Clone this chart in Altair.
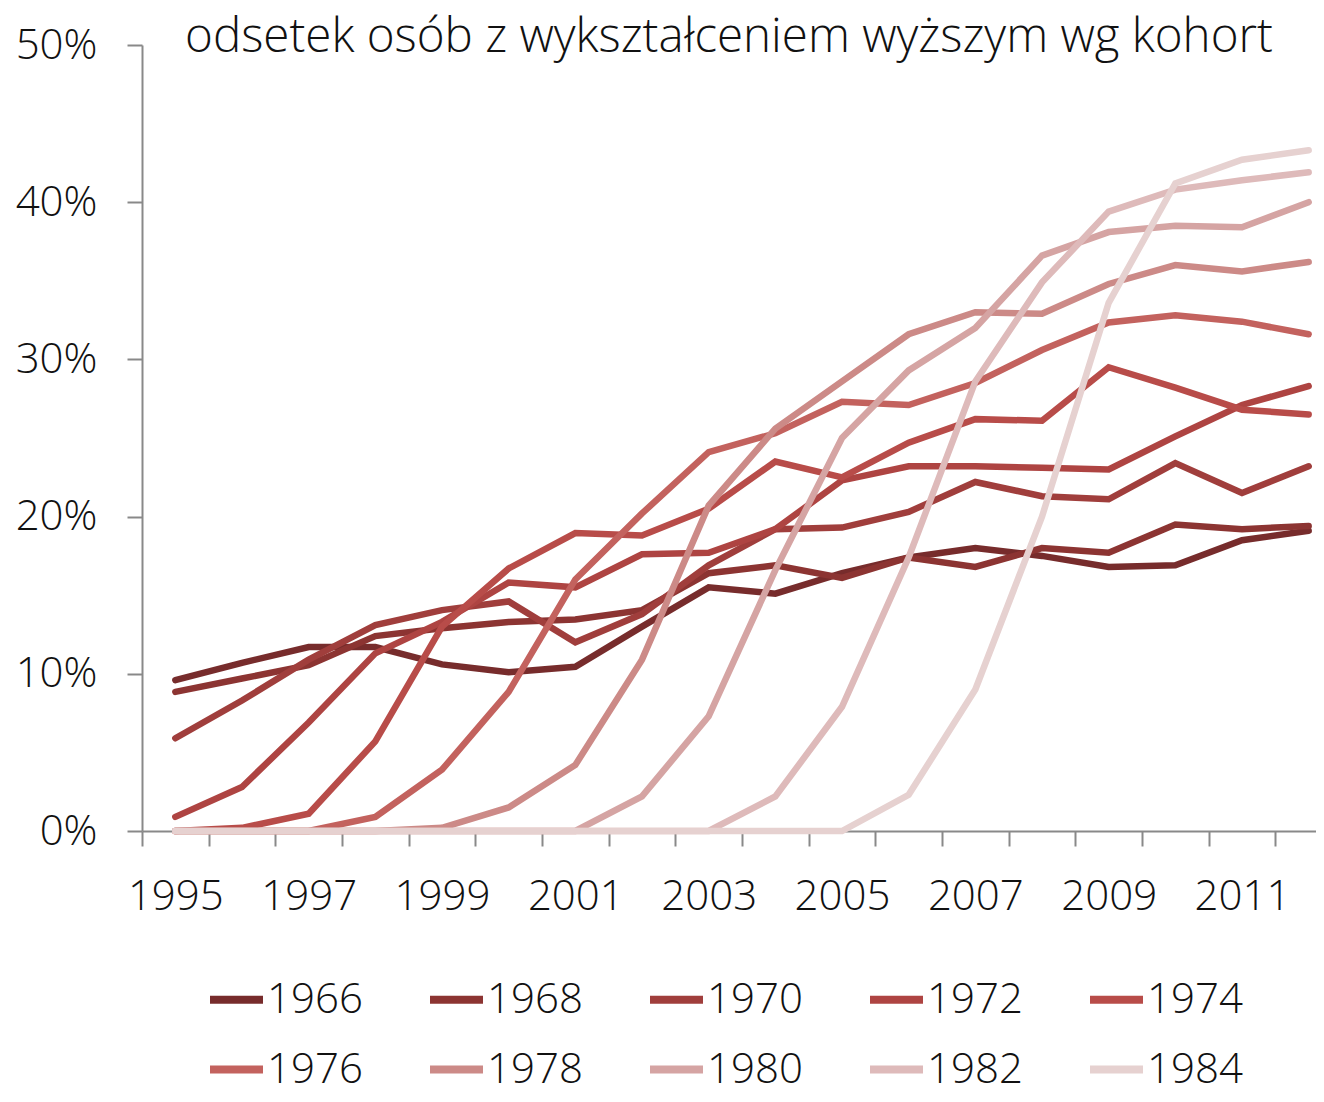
import altair as alt
import pandas as pd

years = list(range(1995, 2013))
cohorts = ["1966", "1968", "1970", "1972", "1974", "1976", "1978", "1980", "1982", "1984"]
colors = ["#772C2C", "#8C3432", "#A03E3C", "#AE4442", "#B84C49",
          "#C3625E", "#CC8A87", "#D5A4A3", "#DEBABA", "#E6D1D0"]

s1966 = [9.6, 10.7, 11.7, 11.7, 10.6, 10.1, 10.45, 13.0, 15.5, 15.1, 16.4, 17.4, 18.0, 17.5, 16.8, 16.9, 18.5, 19.1]
s1968 = [8.85, 9.7, 10.55, 12.4, 12.9, 13.3, 13.45, 14.05, 16.4, 16.9, 16.1, 17.4, 16.8, 18.0, 17.7, 19.5, 19.2, 19.4]
s1970 = [5.9, 8.3, 10.9, 13.1, 14.05, 14.6, 12.0, 13.8, 16.9, 19.2, 19.3, 20.3, 22.2, 21.3, 21.1, 23.4, 21.5, 23.2]
s1972 = [0.9, 2.8, 6.9, 11.3, 13.3, 15.8, 15.5, 17.6, 17.7, 19.2, 22.3, 23.2, 23.2, 23.1, 23.0, 25.1, 27.1, 28.3]
s1974 = [0.0, 0.2, 1.1, 5.7, 13.0, 16.7, 18.95, 18.8, 20.5, 23.5, 22.5, 24.7, 26.2, 26.1, 29.5, 28.2, 26.8, 26.5]
s1976 = [0.0, 0.0, 0.0, 0.9, 3.9, 8.85, 16.0, 20.2, 24.1, 25.3, 27.3, 27.1, 28.5, 30.6, 32.35, 32.8, 32.4, 31.6]
s1978 = [0.0, 0.0, 0.0, 0.0, 0.2, 1.5, 4.2, 10.9, 20.7, 25.6, 28.6, 31.6, 33.0, 32.9, 34.8, 36.0, 35.6, 36.2]
s1980 = [0.0, 0.0, 0.0, 0.0, 0.0, 0.0, 0.0, 2.2, 7.3, 16.6, 25.0, 29.3, 32.0, 36.6, 38.1, 38.5, 38.4, 40.0]
s1982 = [0.0, 0.0, 0.0, 0.0, 0.0, 0.0, 0.0, 0.0, 0.0, 2.2, 7.9, 17.4, 28.6, 34.9, 39.4, 40.8, 41.4, 41.9]
s1984 = [0.0, 0.0, 0.0, 0.0, 0.0, 0.0, 0.0, 0.0, 0.0, 0.0, 0.0, 2.3, 9.0, 20.0, 33.6, 41.2, 42.7, 43.3]

series = [s1966, s1968, s1970, s1972, s1974, s1976, s1978, s1980, s1982, s1984]

title_text = "odsetek osób z wykształceniem wyższym wg kohort"
y_ticks = [0, 10, 20, 30, 40, 50]
x_ticks = [1994.5 + 0.5 * k for k in range(35)]

rows = []
for c, vals in zip(cohorts, series):
    for yr, v in zip(years, vals):
        rows.append({"rok": yr, "kohorta": c, "odsetek": v})
df = pd.DataFrame(rows)

FONT = "Open Sans"
GRAY = "#898989"

chart = (
    alt.Chart(df)
    .mark_line(strokeWidth=6.5, strokeCap="round")
    .encode(
        x=alt.X(
            "rok:Q",
            scale=alt.Scale(domain=[1994.5, 2012.11], nice=False, zero=False),
            axis=alt.Axis(
                title=None,
                values=x_ticks,
                grid=False,
                domainColor=GRAY,
                domainWidth=2,
                tickColor=GRAY,
                tickWidth=2,
                tickSize=15,
                tickOpacity={"condition": {"test": "datum.value % 1 != 0", "value": 1}, "value": 0},
                labelExpr="(datum.value % 2 == 1) ? toString(datum.value) : ''",
                labelOverlap=False,
                labelFlush=False,
                labelFont=FONT,
                labelFontWeight=300,
                labelFontSize=42,
                labelColor="#111111",
                labelPadding=30,
            ),
        ),
        y=alt.Y(
            "odsetek:Q",
            scale=alt.Scale(domain=[0, 50], nice=False),
            axis=alt.Axis(
                title=None,
                values=y_ticks,
                grid=False,
                domainColor=GRAY,
                domainWidth=2,
                tickColor=GRAY,
                tickWidth=2,
                tickSize=15,
                labelExpr="datum.value + '%'",
                labelFont=FONT,
                labelFontWeight=300,
                labelFontSize=42,
                labelColor="#111111",
                labelPadding=30,
            ),
        ),
        color=alt.Color(
            "kohorta:N",
            scale=alt.Scale(domain=cohorts, range=colors),
            legend=alt.Legend(
                title=None,
                orient="none",
                legendX=64,
                legendY=924,
                columns=5,
                direction="horizontal",
                symbolType="stroke",
                symbolStrokeWidth=8,
                symbolSize=2809,
                labelFont=FONT,
                labelFontWeight=300,
                labelFontSize=42,
                labelColor="#111111",
                labelOffset=0,
                columnPadding=51,
                rowPadding=18,
                padding=0,
            ),
        ),
        order=alt.Order("rok:Q"),
    )
    .properties(
        width=1174,
        height=786,
        title=alt.TitleParams(
            text=title_text,
            anchor="middle",
            font=FONT,
            fontWeight=300,
            fontSize=47.5,
            color="#111111",
            offset=-37,
        ),
        autosize=alt.AutoSizeParams(type="none"),
        padding={"left": 134, "top": 37, "right": 0, "bottom": 263},
    )
    .configure_view(stroke=None)
)

chart.save("out.html", embed_options={"renderer": "svg", "actions": False})
